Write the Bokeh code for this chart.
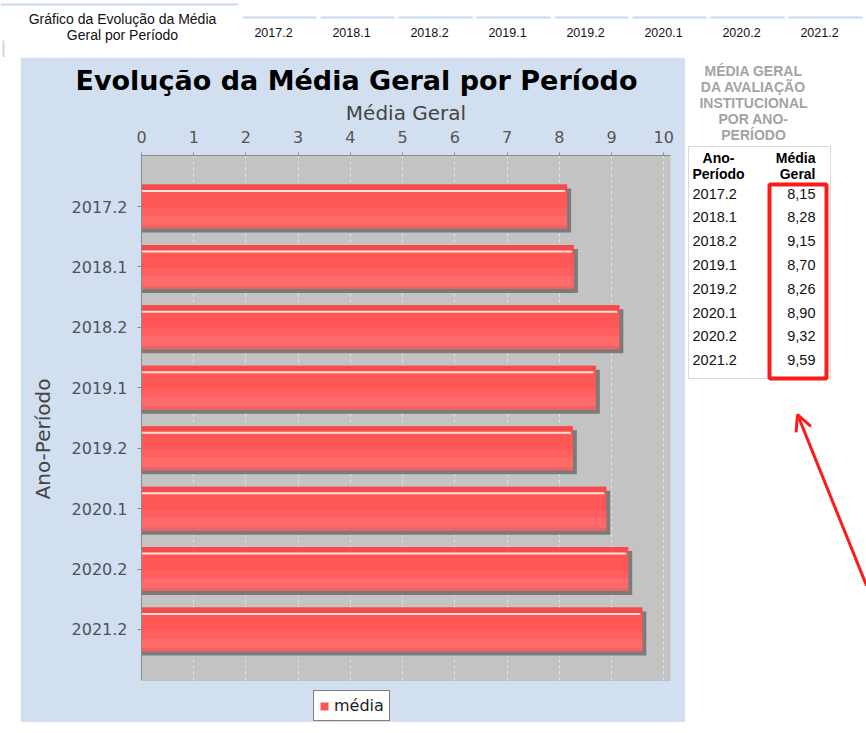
from bokeh.plotting import figure
from bokeh.models import (ColumnDataSource, Range1d, FixedTicker, Legend, BoxAnnotation,
                          LegendItem, Arrow, OpenHead, Spacer)
from bokeh.layouts import column, row
from bokeh.transform import dodge
from bokeh.core.properties import value
from bokeh.embed import file_html
from bokeh.resources import INLINE

# ---------------- data ----------------
periods = ["2017.2", "2018.1", "2018.2", "2019.1", "2019.2", "2020.1", "2020.2", "2021.2"]
media = [8.15, 8.28, 9.15, 8.70, 8.26, 8.90, 9.32, 9.59]
x_ticks = [0, 1, 2, 3, 4, 5, 6, 7, 8, 9, 10]
x_max = 10.13
chart_title = "Evolução da Média Geral por Período"
x_label = "Média Geral"
y_label = "Ano-Período"
legend_label = "média"
header_title = ["Gráfico da Evolução da Média", "Geral por Período"]
side_heading = ["MÉDIA GERAL", "DA AVALIAÇÃO", "INSTITUCIONAL", "POR ANO-", "PERÍODO"]
table_head_left = ["Ano-", "Período"]
table_head_right = ["Média", "Geral"]

# ---------------- styles ----------------
BLUE = "#d2dff0"
GRAY = "#c3c3c3"
LINE_BLUE = "#c8d9ef"
FONT = "DejaVu Sans"
AFONT = "Liberation Sans"
N = len(periods)
EDGE = 0.844                      # category-axis margin (in category units)
FRAME_W, PLOT_H, LEG_H = 529, 525, 42
PX_X = FRAME_W / x_max
PX_Y = PLOT_H / (N - 1 + 2 * EDGE)
GRAY_BOTTOM = N - 1 + EDGE
idx = list(range(N))


def no_axes(f):
    f.xaxis.visible = False
    f.yaxis.visible = False
    f.xgrid.visible = False
    f.ygrid.visible = False
    f.outline_line_color = None


# ---------------- header ----------------
hdr = figure(frame_width=866, frame_height=57, x_range=Range1d(0, 866), y_range=Range1d(57, 0),
             output_backend="svg", toolbar_location=None, min_border=0,
             background_fill_color="white", border_fill_color="white")
no_axes(hdr)
hdr.segment(x0=[0, 3], x1=[238, 3], y0=[4, 40], y1=[4, 57], line_color=LINE_BLUE, line_width=2)
hdr.text(x=[122] * len(header_title), y=[18 + 16 * i for i in range(len(header_title))],
         text=header_title, text_align="center", text_baseline="middle",
         text_font=value(AFONT), text_font_size="14px", text_color="#111")
cell_l = [240 + 78 * i for i in range(N)]
hdr.segment(x0=[c + 2 for c in cell_l], x1=[c + 76 for c in cell_l], y0=[17] * N,
            y1=[17] * N, line_color=LINE_BLUE, line_width=2)
hdr.text(x=[273 + 78 * i for i in range(N)], y=[32] * N, text=periods,
         text_align="center", text_baseline="middle",
         text_font=value(AFONT), text_font_size="12.5px", text_color="#111")

# ---------------- chart ----------------
src = ColumnDataSource(dict(idx=idx, period=periods, media=media))
p = figure(frame_width=FRAME_W, frame_height=PLOT_H + LEG_H,
           y_range=Range1d(GRAY_BOTTOM + LEG_H / PX_Y, -EDGE),
           x_range=Range1d(0, x_max), x_axis_location="above",
           output_backend="svg", toolbar_location=None,
           min_border_left=121, min_border_right=15, min_border_top=98, min_border_bottom=0,
           background_fill_color=BLUE, border_fill_color=BLUE,
           outline_line_color=None, title=chart_title)
p.title.align = "left"
p.title.offset = -66
p.title.text_font = FONT
p.title.text_font_size = "27px"
p.title.text_font_style = "bold"
p.title.text_color = "black"
p.title.standoff = 4

# plot area (gray) and the band under it that holds the legend
p.add_layout(BoxAnnotation(top=-EDGE, bottom=GRAY_BOTTOM, left=0, right=x_max,
                           fill_color=GRAY, fill_alpha=1, line_color=None, level="image"))
p.add_layout(BoxAnnotation(top=GRAY_BOTTOM, bottom=GRAY_BOTTOM + 2 * LEG_H / PX_Y, left=-1,
                           right=x_max + 1, fill_color=BLUE, fill_alpha=1, line_color=None,
                           level="annotation"))
p.add_layout(BoxAnnotation(top=-EDGE, bottom=GRAY_BOTTOM, left=0, right=x_max,
                           fill_color=None, line_color="#8c8c8c", line_width=1,
                           level="annotation"))

BH = 44 / PX_Y
p.hbar(y=dodge("idx", 4 / PX_Y), left=0, right=dodge("media", 4 / PX_X), height=BH,
       source=src, fill_color="#7b7b7b", line_color=None)
main = p.hbar(y="idx", left=0, right="media", height=BH, source=src,
              fill_color="#ff5656", line_color=None)
p.hbar(y=dodge("idx", 6 / PX_Y), left=0, right="media",
       height=10 / PX_Y, source=src, fill_color="#ff5f5f", line_color=None)
p.hbar(y=dodge("idx", 14 / PX_Y), left=0, right="media",
       height=10 / PX_Y, source=src, fill_color="#ff6b6b", line_color=None)
p.hbar(y=dodge("idx", 20.5 / PX_Y), left=0, right="media",
       height=3 / PX_Y, source=src, fill_color="#ec6464", line_color=None)
p.hbar(y=dodge("idx", -19 / PX_Y), left=0, right="media",
       height=6 / PX_Y, source=src, fill_color="#f44c4c", line_color=None)
p.hbar(y=dodge("idx", -15.5 / PX_Y), left=0, right=dodge("media", -0.04),
       height=2 / PX_Y, source=src, fill_color="#ffe2d8", line_color=None)

p.xgrid.ticker = FixedTicker(ticks=x_ticks)
p.xgrid.grid_line_color = "#e2e2e2"
p.xgrid.grid_line_dash = "3 3"
p.ygrid.grid_line_color = None

p.xaxis.ticker = FixedTicker(ticks=x_ticks)
p.yaxis.ticker = FixedTicker(ticks=idx)
p.yaxis.major_label_overrides = {i: s for i, s in zip(idx, periods)}
p.yaxis.bounds = (-EDGE, GRAY_BOTTOM)
for ax in (p.xaxis, p.yaxis):
    ax.axis_line_color = "#8a8a8a"
    ax.major_tick_line_color = "#8a8a8a"
    ax.minor_tick_line_color = None
    ax.major_tick_in = 0
    ax.major_label_text_font = FONT
    ax.major_label_text_font_size = "16px"
    ax.axis_label_text_font = FONT
    ax.axis_label_text_font_size = "20px"
    ax.axis_label_text_font_style = "normal"
    ax.axis_label_text_color = "#444444"
p.xaxis.axis_label = x_label
p.yaxis.axis_label = y_label
p.xaxis.major_tick_out = 3
p.xaxis.major_label_standoff = 10
p.xaxis.axis_label_standoff = 3
p.xaxis.major_label_text_color = "#555555"
p.yaxis.major_tick_out = 4
p.yaxis.major_label_standoff = 10
p.yaxis.axis_label_standoff = 14
p.yaxis.major_label_text_color = "#4d525c"

legend = Legend(items=[LegendItem(label=legend_label, renderers=[main])],
                location=(172, 1), orientation="horizontal",
                border_line_color="black", border_line_width=1,
                background_fill_color="white", background_fill_alpha=1,
                label_text_font=FONT, label_text_font_size="16px", label_text_color="#222",
                glyph_width=10, glyph_height=10, padding=5, margin=0,
                label_standoff=5, spacing=0)
p.add_layout(legend)

# ---------------- side panel ----------------
side = figure(frame_width=181, frame_height=665, x_range=Range1d(685, 866),
              y_range=Range1d(722, 57),
              output_backend="svg", toolbar_location=None, min_border=0,
              background_fill_color="white", border_fill_color="white")
no_axes(side)
side.text(x=[753] * len(side_heading), y=[70 + 16 * i for i in range(len(side_heading))],
          text=side_heading, text_align="center", text_baseline="middle",
          text_font=value(AFONT), text_font_size="14px", text_font_style="bold",
          text_color="#a3a3a3")
side.quad(left=[688], right=[830], top=[146], bottom=[378], fill_color=None,
          line_color="#d9d9d9", line_width=1)
side.text(x=[718] * 2, y=[157, 173], text=table_head_left, text_align="center",
          text_baseline="middle", text_font=value(AFONT), text_font_size="14px",
          text_font_style="bold", text_color="black")
side.text(x=[815] * 2, y=[157, 173], text=table_head_right, text_align="right",
          text_baseline="middle", text_font=value(AFONT), text_font_size="14px",
          text_font_style="bold", text_color="black")
row_y = [193 + 23.8 * i for i in range(N)]
side.text(x=[692] * N, y=row_y, text=periods, text_align="left",
          text_baseline="middle", text_font=value(AFONT), text_font_size="14.5px",
          text_color="#111")
side.text(x=[815] * N, y=row_y, text=[f"{v:.2f}".replace(".", ",") for v in media],
          text_align="right", text_baseline="middle", text_font=value(AFONT),
          text_font_size="14.5px", text_color="#111")
side.quad(left=[769], right=[826], top=[184], bottom=[378], fill_color=None,
          line_color="#ff1a1a", line_width=4)
side.add_layout(Arrow(end=OpenHead(size=16, line_color="#ff1a1a", line_width=3),
                      x_start=866, y_start=585, x_end=797, y_end=414,
                      line_color="#ff1a1a", line_width=3))

layout = column(hdr, row(Spacer(width=20, height=665), p, column(side)))
open("out.html", "w").write(file_html(layout, INLINE))
